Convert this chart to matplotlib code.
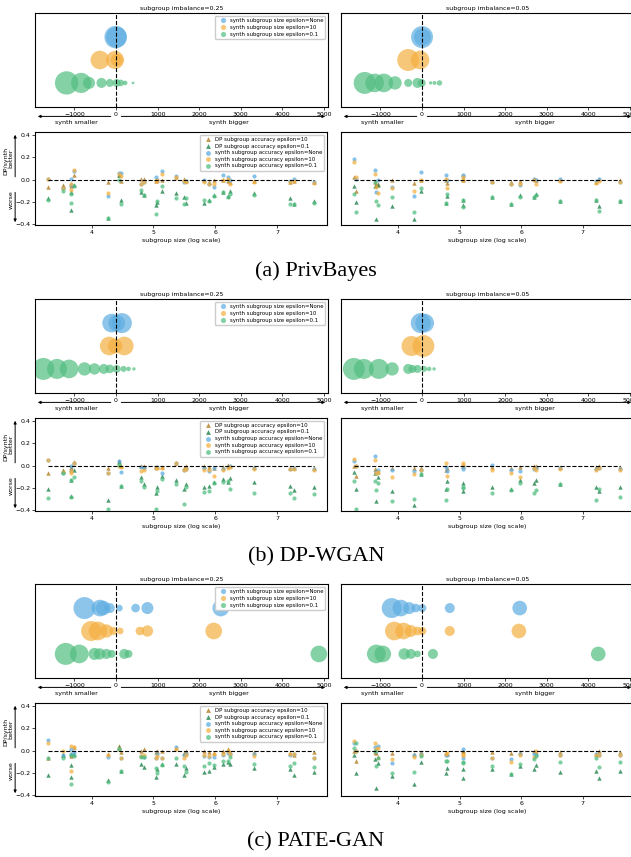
import matplotlib
matplotlib.use("Agg")
import matplotlib.pyplot as plt

# --------------------------------------------------------------
# Data: bubble plots (synth size - real size, bubble area)
# --------------------------------------------------------------
# (a) PrivBayes
a_l_none_x = [-10, 10]
a_l_none_s = [260, 220]
a_l_10_x = [-390, -25, 20]
a_l_10_s = [180, 170, 80]
a_l_01_x = [-1190, -840, -650, -350, -150, 15, 115, 220, 410]
a_l_01_s = [282, 210, 75, 52, 33, 33, 23, 11, 4]

a_r_none_x = [0, 10]
a_r_none_s = [250, 150]
a_r_10_x = [-333, -48]
a_r_10_s = [250, 180]
a_r_01_x = [-1380, -1140, -920, -650, -333, -110, -8, 206, 300, 420]
a_r_01_s = [250, 180, 180, 92, 33, 52, 33, 6, 8, 15]

# (b) DP-WGAN
b_l_none_x = [-107, 16, 140]
b_l_none_s = [180, 144, 207]
b_l_10_x = [-164, -25, 197]
b_l_10_s = [180, 111, 181]
b_l_01_x = [-1747, -1420, -1130, -760, -520, -295, -150, 16, 180, 300, 430]
b_l_01_s = [250, 207, 181, 92, 67, 52, 39, 33, 19, 11, 6]

b_r_none_x = [-32, 64]
b_r_none_s = [207, 181]
b_r_10_x = [-254, 32]
b_r_10_s = [207, 250]
b_r_01_x = [-1640, -1400, -1040, -720, -333, -230, -110, 48, 170, 290]
b_r_01_s = [250, 207, 207, 92, 52, 33, 33, 19, 11, 6]

# (c) PATE-GAN
c_l_none_x = [-760, -390, -310, -150, 80, 470, 755, 2520]
c_l_none_s = [250, 144, 111, 52, 23, 39, 75, 144]
c_l_10_x = [-600, -435, -230, -65, 100, 575, 755, 2350]
c_l_10_s = [207, 181, 92, 33, 23, 39, 67, 144]
c_l_01_x = [-1210, -885, -520, -395, -230, -105, 197, 300, 4880]
c_l_01_s = [250, 181, 75, 67, 52, 33, 52, 33, 144]

c_r_none_x = [-730, -510, -310, -150, 8, 667, 2350]
c_r_none_s = [207, 144, 75, 39, 33, 52, 111]
c_r_10_x = [-667, -445, -270, -110, 8, 667, 2330]
c_r_10_s = [181, 144, 75, 39, 33, 52, 111]
c_r_01_x = [-1100, -945, -430, -270, -110, 262, 4240]
c_r_01_s = [181, 144, 67, 52, 23, 52, 111]

# --------------------------------------------------------------
# Data: subgroup accuracy difference vs log subgroup size
# --------------------------------------------------------------
x_025 = [3.30, 3.53, 3.66, 3.67, 3.71, 4.26, 4.45, 4.48, 4.80, 4.84, 5.04, 5.06, 5.14,
         5.37, 5.50, 5.52, 5.82, 5.90, 5.98, 6.13, 6.20, 6.23, 6.63, 7.21, 7.27, 7.59]
x_005 = [3.29, 3.31, 3.62, 3.64, 3.67, 3.91, 4.26, 4.37, 4.78, 4.80, 5.05, 5.06, 5.53,
         5.83, 5.98, 6.21, 6.24, 6.63, 7.21, 7.27, 7.60]

a_l_dp10 = [-0.07, -0.05, -0.04, -0.06, 0.04, -0.02, 0.04, -0.01, 0.01, 0.01, -0.01, 0.00, 0.00,
            0.02, 0.01, -0.01, 0.00, -0.02, 0.00, 0.00, -0.01, -0.02, -0.01, -0.02, -0.01, -0.02]
a_l_dp01 = [-0.17, -0.07, -0.27, -0.11, -0.05, -0.35, 0.04, -0.18, -0.11, -0.14, -0.23, -0.20, -0.10,
            -0.12, -0.16, -0.21, -0.21, -0.18, -0.14, -0.11, -0.15, -0.10, -0.12, -0.17, -0.22, -0.19]
a_l_sNone = [0.01, -0.08, 0.01, -0.05, 0.08, -0.15, 0.06, 0.06, -0.04, -0.02, 0.02, 0.00, 0.08,
             0.03, -0.02, -0.01, 0.00, -0.04, -0.07, 0.04, 0.02, 0.00, 0.03, -0.01, 0.01, -0.02]
a_l_s10 = [0.01, -0.08, -0.09, -0.04, 0.09, -0.12, 0.05, 0.03, -0.04, -0.02, -0.01, 0.00, 0.05,
           0.02, -0.01, -0.02, -0.02, -0.04, -0.04, 0.00, 0.01, -0.04, -0.02, -0.02, -0.01, -0.03]
a_l_s01 = [-0.18, -0.10, -0.13, -0.21, -0.06, -0.35, 0.00, -0.22, -0.09, -0.14, -0.31, -0.19, -0.06,
           -0.17, -0.22, -0.17, -0.18, -0.19, -0.15, -0.11, -0.16, -0.13, -0.14, -0.22, -0.22, -0.21]

a_r_dp10 = [0.02, -0.10, -0.02, -0.05, -0.04, 0.00, -0.03, 0.00, 0.00, -0.03, 0.01,
            0.00, -0.01, -0.02, -0.01, 0.01, 0.00, 0.00, -0.02, 0.01, 0.00]
a_r_dp01 = [-0.06, -0.20, -0.06, -0.36, -0.05, -0.24, -0.36, -0.10, -0.21, -0.15, -0.23,
            -0.18, -0.16, -0.22, -0.14, -0.16, -0.13, -0.19, -0.18, -0.24, -0.19]
a_r_sNone = [0.19, 0.01, 0.09, -0.11, 0.00, -0.07, -0.15, 0.07, 0.04, 0.00, 0.04,
             0.03, -0.02, -0.04, -0.05, 0.01, 0.00, 0.01, -0.01, 0.01, -0.02]
a_r_s10 = [0.16, 0.02, 0.05, -0.07, -0.12, -0.08, -0.10, 0.00, 0.01, -0.08, 0.00,
           0.02, -0.02, -0.04, -0.04, 0.00, -0.04, -0.01, -0.03, -0.01, -0.02]
a_r_s01 = [-0.13, -0.29, -0.02, -0.19, -0.23, -0.16, -0.29, -0.08, -0.21, -0.13, -0.25,
           -0.18, -0.16, -0.22, -0.16, -0.16, -0.14, -0.19, -0.18, -0.28, -0.19]

b_l_dp10 = [-0.07, -0.04, -0.01, -0.03, 0.03, -0.02, 0.04, 0.00, 0.00, 0.00, -0.01, -0.01, -0.01,
            0.02, -0.02, 0.00, 0.00, -0.01, -0.02, -0.01, 0.01, 0.00, -0.01, -0.02, -0.02, -0.02]
b_l_dp01 = [-0.21, -0.05, -0.27, -0.13, -0.04, -0.31, 0.03, -0.18, -0.10, -0.17, -0.25, -0.19, -0.09,
            -0.13, -0.21, -0.17, -0.19, -0.18, -0.15, -0.12, -0.15, -0.11, -0.15, -0.18, -0.22, -0.19]
b_l_sNone = [0.05, -0.07, 0.00, -0.05, 0.02, -0.07, 0.04, -0.06, -0.01, -0.02, -0.02, -0.01, -0.07,
             0.02, -0.04, -0.03, -0.02, -0.05, -0.02, -0.03, -0.01, 0.00, -0.02, -0.03, -0.02, -0.03]
b_l_s10 = [0.05, -0.06, -0.07, -0.05, 0.02, -0.07, 0.00, -0.01, -0.05, -0.04, -0.02, -0.02, -0.02,
           0.02, -0.04, -0.03, -0.04, -0.04, -0.09, -0.04, -0.02, -0.01, -0.03, -0.03, -0.03, -0.04]
b_l_s01 = [-0.29, -0.07, -0.28, -0.13, -0.10, -0.39, 0.01, -0.18, -0.14, -0.19, -0.39, -0.23, -0.12,
           -0.17, -0.35, -0.19, -0.24, -0.23, -0.16, -0.15, -0.14, -0.21, -0.25, -0.25, -0.29, -0.26]

b_r_dp10 = [0.00, -0.09, -0.03, -0.04, -0.06, -0.02, -0.02, -0.02, -0.04, -0.02, 0.00,
            0.00, -0.01, -0.02, -0.01, 0.00, 0.00, -0.01, -0.01, 0.00, -0.01]
b_r_dp01 = [-0.06, -0.21, -0.07, -0.32, -0.10, -0.23, -0.36, -0.08, -0.21, -0.14, -0.23,
            -0.16, -0.19, -0.21, -0.13, -0.16, -0.13, -0.17, -0.19, -0.23, -0.19]
b_r_sNone = [0.04, 0.00, 0.09, -0.06, -0.04, -0.04, -0.05, -0.04, -0.01, -0.05, -0.03,
             0.00, 0.01, -0.04, -0.05, -0.03, -0.02, -0.02, -0.03, -0.02, -0.03]
b_r_s10 = [0.06, 0.00, 0.05, -0.07, -0.06, -0.10, -0.08, -0.04, 0.02, -0.09, 0.01,
           0.02, -0.04, -0.07, -0.10, -0.02, -0.04, -0.03, -0.04, -0.02, -0.04]
b_r_s01 = [-0.14, -0.39, -0.14, -0.22, -0.16, -0.32, -0.30, -0.08, -0.31, -0.21, -0.20,
           -0.19, -0.25, -0.22, -0.16, -0.25, -0.22, -0.17, -0.31, -0.21, -0.28]

c_l_dp10 = [-0.07, -0.04, -0.03, -0.05, 0.03, -0.03, 0.04, -0.01, 0.00, 0.01, -0.01, 0.00, 0.00,
            0.02, -0.02, 0.00, 0.00, -0.01, -0.02, 0.00, 0.01, -0.01, -0.01, -0.02, -0.04, -0.01]
c_l_dp01 = [-0.22, -0.04, -0.13, -0.24, -0.03, -0.27, 0.03, -0.18, -0.12, -0.15, -0.24, -0.17, -0.12,
            -0.12, -0.22, -0.16, -0.19, -0.18, -0.15, -0.12, -0.10, -0.12, -0.16, -0.17, -0.22, -0.19]
c_l_sNone = [0.10, -0.04, 0.01, -0.03, -0.01, -0.06, 0.01, -0.07, -0.05, -0.06, -0.07, -0.03, -0.07,
             0.03, -0.04, -0.03, -0.05, -0.06, -0.06, -0.04, -0.02, -0.03, -0.03, -0.04, -0.03, -0.07]
c_l_s10 = [0.07, 0.00, 0.04, -0.18, 0.03, -0.04, 0.01, -0.07, -0.05, -0.04, -0.07, -0.05, -0.07,
           0.01, -0.07, -0.04, -0.04, -0.05, -0.03, -0.03, 0.00, -0.03, -0.05, -0.03, -0.03, -0.07]
c_l_s01 = [-0.07, -0.07, -0.04, -0.30, -0.05, -0.28, 0.01, -0.18, -0.06, -0.06, -0.16, -0.20, -0.13,
           -0.07, -0.14, -0.19, -0.14, -0.11, -0.13, -0.09, -0.09, -0.06, -0.12, -0.14, -0.11, -0.15]

c_r_dp10 = [0.00, -0.09, -0.01, -0.02, -0.06, -0.02, -0.03, -0.01, -0.02, -0.03, 0.00,
            0.00, -0.01, -0.02, -0.01, 0.00, -0.01, -0.01, -0.03, 0.00, -0.01]
c_r_dp01 = [-0.04, -0.20, -0.08, -0.34, -0.11, -0.23, -0.30, -0.10, -0.20, -0.16, -0.25,
            -0.17, -0.17, -0.21, -0.14, -0.17, -0.13, -0.19, -0.18, -0.25, -0.18]
c_r_sNone = [0.07, 0.00, 0.03, 0.00, 0.04, -0.11, -0.04, -0.03, -0.04, -0.04, -0.07,
             0.01, -0.07, -0.08, -0.03, -0.03, -0.04, -0.04, -0.03, -0.04, -0.04]
c_r_s10 = [0.09, 0.00, 0.07, 0.01, 0.02, -0.08, -0.06, -0.04, -0.03, -0.02, -0.04,
           -0.04, -0.07, -0.10, -0.04, -0.06, 0.00, -0.04, -0.04, -0.04, -0.04]
c_r_s01 = [0.02, 0.07, 0.00, -0.14, -0.07, -0.20, -0.19, -0.05, -0.09, -0.09, -0.10,
           -0.11, -0.14, -0.21, -0.12, -0.08, -0.05, -0.10, -0.07, -0.15, -0.10]

titles = ["subgroup imbalance=0.25", "subgroup imbalance=0.05"]
captions = ["(a) PrivBayes", "(b) DP-WGAN", "(c) PATE-GAN"]
bubble_labels = ["synth subgroup size epsilon=None", "synth subgroup size epsilon=10",
                 "synth subgroup size epsilon=0.1"]
acc_labels = ["DP subgroup accuracy epsilon=10", "DP subgroup accuracy epsilon=0.1",
              "synth subgroup accuracy epsilon=None", "synth subgroup accuracy epsilon=10",
              "synth subgroup accuracy epsilon=0.1"]

# --------------------------------------------------------------
# Styles
# --------------------------------------------------------------
C_BLUE = "#5dade2"
C_ORANGE = "#f5b041"
C_GREEN = "#52be80"
C_DP10 = "#b5852f"
C_DP01 = "#2e8b57"
FS = 4.5
plt.rcParams["font.size"] = FS
plt.rcParams["axes.linewidth"] = 0.8

W, H = 631, 857
fig = plt.figure(figsize=(W / 100, H / 100), dpi=100)


def box(l, t, r, b):
    return [l / W, 1 - b / H, (r - l) / W, (b - t) / H]


def style_ticks(ax):
    ax.tick_params(labelsize=FS, length=2, width=0.5, pad=1.5)


def draw_bubbles(ax, rows, title, legend):
    colors = [C_BLUE, C_ORANGE, C_GREEN]
    for i, (xs, ss) in enumerate(rows):
        ax.scatter(xs, [2 - i] * len(xs), s=ss, color=colors[i], alpha=0.7,
                   linewidths=0, label=bubble_labels[i])
    ax.axvline(0, color="black", ls="--", lw=0.8)
    ax.set_xlim(-1950, 5100)
    ax.set_ylim(-1.05, 3.05)
    ax.set_yticks([])
    ax.set_xticks([-1000, 0, 1000, 2000, 3000, 4000, 5000])
    style_ticks(ax)
    ax.set_title(title, fontsize=FS, pad=2)
    tr = ax.get_xaxis_transform()
    ap = dict(arrowstyle="-|>", lw=0.7, color="black", mutation_scale=4)
    ax.annotate("", xy=(-1950, -0.1), xytext=(-60, -0.1), xycoords=tr, textcoords=tr,
                arrowprops=ap, annotation_clip=False)
    ax.annotate("", xy=(5100, -0.1), xytext=(60, -0.1), xycoords=tr, textcoords=tr,
                arrowprops=ap, annotation_clip=False)
    ax.text(-950, -0.16, "synth smaller", transform=tr, ha="center", va="center", fontsize=FS)
    ax.text(2720, -0.16, "synth bigger", transform=tr, ha="center", va="center", fontsize=FS)
    if legend:
        leg = ax.legend(loc="upper right", fontsize=3.9, labelspacing=0.35,
                        handletextpad=0.3, borderpad=0.4, framealpha=1)
        for h in leg.legend_handles:
            h.set_sizes([14])


def draw_acc(ax, x, series, legend, ylab):
    ax.scatter(x, series[0], marker="^", s=10, color=C_DP10, alpha=0.85, linewidths=0,
               label=acc_labels[0])
    ax.scatter(x, series[1], marker="^", s=10, color=C_DP01, alpha=0.85, linewidths=0,
               label=acc_labels[1])
    ax.scatter(x, series[2], marker="o", s=9, color=C_BLUE, alpha=0.75, linewidths=0,
               label=acc_labels[2])
    ax.scatter(x, series[3], marker="o", s=9, color=C_ORANGE, alpha=0.75, linewidths=0,
               label=acc_labels[3])
    ax.scatter(x, series[4], marker="o", s=9, color=C_GREEN, alpha=0.75, linewidths=0,
               label=acc_labels[4])
    ax.hlines(0, min(x), max(x), colors="black", linestyles="--", lw=0.8)
    ax.set_ylim(-0.41, 0.43)
    ax.set_xticks([4, 5, 6, 7])
    ax.set_xlabel("subgroup size (log scale)", fontsize=FS, labelpad=2)
    style_ticks(ax)
    if ylab:
        ax.set_yticks([-0.4, -0.2, 0.0, 0.2, 0.4])
        tr = ax.get_yaxis_transform()
        ap = dict(arrowstyle="-|>", lw=0.7, color="black", mutation_scale=4)
        ax.annotate("", xy=(-0.068, 0.43), xytext=(-0.068, 0.0), xycoords=tr, textcoords=tr,
                    arrowprops=ap, annotation_clip=False)
        ax.annotate("", xy=(-0.068, -0.41), xytext=(-0.068, -0.09), xycoords=tr, textcoords=tr,
                    arrowprops=ap, annotation_clip=False)
        ax.text(-0.082, 0.72, "better", transform=ax.transAxes, rotation=90,
                ha="center", va="center", fontsize=FS)
        ax.text(-0.082, 0.27, "worse", transform=ax.transAxes, rotation=90,
                ha="center", va="center", fontsize=FS)
        ax.text(-0.1, 0.69, "DP/synth", transform=ax.transAxes, rotation=90,
                ha="center", va="center", fontsize=FS)
    else:
        ax.tick_params(labelleft=False, left=False)
        ax.set_yticks([])
    if legend:
        leg = ax.legend(loc="upper right", fontsize=3.9, labelspacing=0.3,
                        handletextpad=0.3, borderpad=0.4, framealpha=1)
        for h in leg.legend_handles:
            h.set_sizes([12])


bubbles = [
    ([(a_l_none_x, a_l_none_s), (a_l_10_x, a_l_10_s), (a_l_01_x, a_l_01_s)],
     [(a_r_none_x, a_r_none_s), (a_r_10_x, a_r_10_s), (a_r_01_x, a_r_01_s)]),
    ([(b_l_none_x, b_l_none_s), (b_l_10_x, b_l_10_s), (b_l_01_x, b_l_01_s)],
     [(b_r_none_x, b_r_none_s), (b_r_10_x, b_r_10_s), (b_r_01_x, b_r_01_s)]),
    ([(c_l_none_x, c_l_none_s), (c_l_10_x, c_l_10_s), (c_l_01_x, c_l_01_s)],
     [(c_r_none_x, c_r_none_s), (c_r_10_x, c_r_10_s), (c_r_01_x, c_r_01_s)]),
]
accs = [
    ([a_l_dp10, a_l_dp01, a_l_sNone, a_l_s10, a_l_s01],
     [a_r_dp10, a_r_dp01, a_r_sNone, a_r_s10, a_r_s01]),
    ([b_l_dp10, b_l_dp01, b_l_sNone, b_l_s10, b_l_s01],
     [b_r_dp10, b_r_dp01, b_r_sNone, b_r_s10, b_r_s01]),
    ([c_l_dp10, c_l_dp01, c_l_sNone, c_l_s10, c_l_s01],
     [c_r_dp10, c_r_dp01, c_r_sNone, c_r_s10, c_r_s01]),
]
offsets = [0, 286, 571]

for k in range(3):
    off = offsets[k]
    ax_bl = fig.add_axes(box(35, 13 + off, 328, 107 + off))
    ax_br = fig.add_axes(box(341, 13 + off, 634, 107 + off))
    ax_sl = fig.add_axes(box(35, 132 + off, 327, 225 + off))
    ax_sr = fig.add_axes(box(341, 132 + off, 633, 225 + off))
    draw_bubbles(ax_bl, bubbles[k][0], titles[0], True)
    draw_bubbles(ax_br, bubbles[k][1], titles[1], False)
    draw_acc(ax_sl, x_025, accs[k][0], True, True)
    draw_acc(ax_sr, x_005, accs[k][1], False, False)
    fig.text(316 / W, 1 - (271 + off) / H, captions[k], ha="center", va="center",
             fontsize=16, family="Liberation Serif")

fig.savefig("out.png", dpi=100)
